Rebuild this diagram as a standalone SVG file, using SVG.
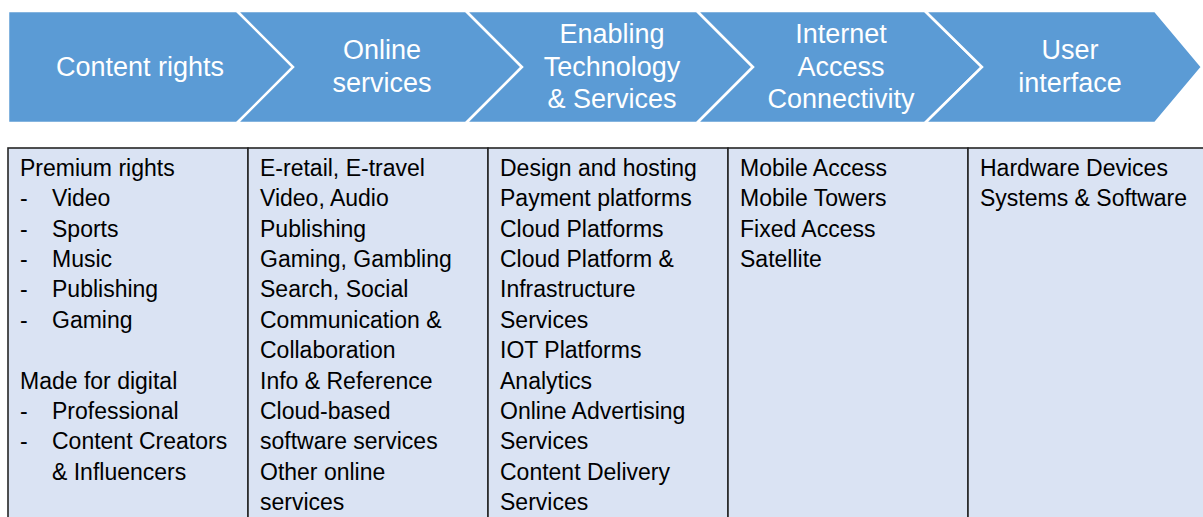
<svg xmlns="http://www.w3.org/2000/svg" width="1203" height="517" viewBox="0 0 1203 517">
<style>
.chev{fill:#5B9BD5;stroke:#FFFFFF;stroke-width:2.5;stroke-linejoin:miter}
.ht{font-family:"Liberation Sans",Arial,sans-serif;font-size:27px;fill:#FFFFFF;text-anchor:middle}
.cell{fill:#DAE3F3;stroke:#262626;stroke-width:1.6}
.tt{font-family:"Liberation Sans",Arial,sans-serif;font-size:23px;fill:#000000}
</style>
<rect width="1203" height="517" fill="#FFFFFF"/>
<g id="stage-content-rights">
<polygon class="chev" points="8,11 237,11 295,67 237,123 8,123"/>
<text class="ht" x="140" y="76">Content rights</text>
</g>
<g id="stage-online-services">
<polygon class="chev" points="237,11 466,11 522,67 466,123 237,123 293,67"/>
<text class="ht" x="382" y="59">Online</text>
<text class="ht" x="382" y="92">services</text>
</g>
<g id="stage-enabling-technology">
<polygon class="chev" points="466,11 697,11 753,67 697,123 466,123 522,67"/>
<text class="ht" x="612" y="43">Enabling</text>
<text class="ht" x="612" y="76">Technology</text>
<text class="ht" x="612" y="108">&amp; Services</text>
</g>
<g id="stage-internet-access">
<polygon class="chev" points="697,11 925,11 982,67 925,123 697,123 753,67"/>
<text class="ht" x="841" y="43">Internet</text>
<text class="ht" x="841" y="76">Access</text>
<text class="ht" x="841" y="108">Connectivity</text>
</g>
<g id="stage-user-interface">
<polygon class="chev" points="925,11 1155,11 1202,67 1155,123 925,123 982,67"/>
<text class="ht" x="1070" y="59">User</text>
<text class="ht" x="1070" y="92">interface</text>
</g>
<g id="table">
<rect class="cell" x="8" y="148" width="240" height="380"/>
<rect class="cell" x="248" y="148" width="240" height="380"/>
<rect class="cell" x="488" y="148" width="240" height="380"/>
<rect class="cell" x="728" y="148" width="240" height="380"/>
<rect class="cell" x="968" y="148" width="250" height="380"/>
</g>
<g id="col-content-rights" class="tt">
<text x="20" y="176">Premium rights</text>
<text x="20" y="206">-</text><text x="52" y="206">Video</text>
<text x="20" y="237">-</text><text x="52" y="237">Sports</text>
<text x="20" y="267">-</text><text x="52" y="267">Music</text>
<text x="20" y="297">-</text><text x="52" y="297">Publishing</text>
<text x="20" y="328">-</text><text x="52" y="328">Gaming</text>
<text x="20" y="389">Made for digital</text>
<text x="20" y="419">-</text><text x="52" y="419">Professional</text>
<text x="20" y="449">-</text><text x="52" y="449">Content Creators</text>
<text x="52" y="480">&amp; Influencers</text>
</g>
<g id="col-online-services" class="tt">
<text x="260" y="176">E-retail, E-travel</text>
<text x="260" y="206">Video, Audio</text>
<text x="260" y="237">Publishing</text>
<text x="260" y="267">Gaming, Gambling</text>
<text x="260" y="297">Search, Social</text>
<text x="260" y="328">Communication &amp;</text>
<text x="260" y="358">Collaboration</text>
<text x="260" y="389">Info &amp; Reference</text>
<text x="260" y="419">Cloud-based</text>
<text x="260" y="449">software services</text>
<text x="260" y="480">Other online</text>
<text x="260" y="510">services</text>
</g>
<g id="col-enabling-technology" class="tt">
<text x="500" y="176">Design and hosting</text>
<text x="500" y="206">Payment platforms</text>
<text x="500" y="237">Cloud Platforms</text>
<text x="500" y="267">Cloud Platform &amp;</text>
<text x="500" y="297">Infrastructure</text>
<text x="500" y="328">Services</text>
<text x="500" y="358">IOT Platforms</text>
<text x="500" y="389">Analytics</text>
<text x="500" y="419">Online Advertising</text>
<text x="500" y="449">Services</text>
<text x="500" y="480">Content Delivery</text>
<text x="500" y="510">Services</text>
</g>
<g id="col-internet-access" class="tt">
<text x="740" y="176">Mobile Access</text>
<text x="740" y="206">Mobile Towers</text>
<text x="740" y="237">Fixed Access</text>
<text x="740" y="267">Satellite</text>
</g>
<g id="col-user-interface" class="tt">
<text x="980" y="176">Hardware Devices</text>
<text x="980" y="206">Systems &amp; Software</text>
</g>
<g id="connectors"/>
</svg>
